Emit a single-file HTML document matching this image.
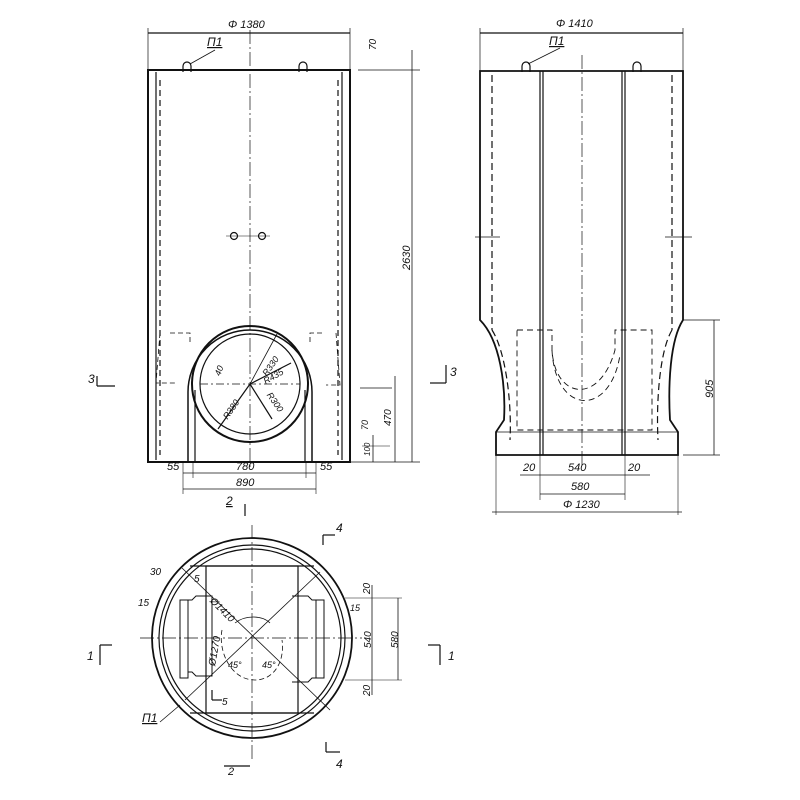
<!DOCTYPE html>
<html><head><meta charset="utf-8"><style>body{margin:0;background:#fff}svg{display:block}text{font-family:"Liberation Sans",sans-serif;font-style:italic;fill:#111}</style></head>
<body>
<svg width="800" height="800" viewBox="0 0 800 800" xmlns="http://www.w3.org/2000/svg" stroke="#111" fill="none" stroke-width="1.2">
<!-- LEFT ELEVATION -->
<rect x="148" y="70" width="202" height="392" stroke-width="2"/>
<line x1="156" y1="72" x2="156" y2="460"/><line x1="342" y1="72" x2="342" y2="460"/>
<line x1="160" y1="80" x2="160" y2="455" stroke-dasharray="6,4"/><line x1="338" y1="80" x2="338" y2="455" stroke-dasharray="6,4"/>
<line x1="250" y1="30" x2="250" y2="470" stroke-dasharray="14,3,2,3" stroke-width="0.7"/>
<line x1="148" y1="33" x2="350" y2="33"/><line x1="148" y1="28" x2="148" y2="70" stroke-width="0.7"/><line x1="350" y1="28" x2="350" y2="70" stroke-width="0.7"/>
<text x="228" y="28" font-size="11" stroke="none">Φ 1380</text>
<text x="207" y="46" font-size="12" stroke="none" text-decoration="underline">П1</text>
<line x1="215" y1="50" x2="190" y2="64" stroke-width="0.8"/>
<path d="M183 72 v-6 a4 4 0 0 1 8 0 v6 M299 72 v-6 a4 4 0 0 1 8 0 v6"/>
<circle cx="234" cy="236" r="3.5"/><circle cx="262" cy="236" r="3.5"/>
<line x1="226" y1="236" x2="270" y2="236" stroke-width="0.6"/>
<!-- circle opening -->
<circle cx="250" cy="384" r="58" stroke-width="2"/><circle cx="250" cy="384" r="50"/>
<path d="M188 462 V392 A62 62 0 0 1 312 392 V462" stroke-width="1.5"/>
<line x1="195" y1="462" x2="195" y2="390"/><line x1="305" y1="462" x2="305" y2="390"/>
<line x1="200" y1="384" x2="300" y2="384" stroke-dasharray="8,3,2,3" stroke-width="0.7"/>
<line x1="250" y1="384" x2="277" y2="334" stroke-width="0.8"/><line x1="250" y1="384" x2="291" y2="363"/><line x1="250" y1="384" x2="272" y2="419"/>
<line x1="250" y1="384" x2="218" y2="429"/>
<text x="252" y="374" font-size="9" stroke="none" transform="rotate(-55 262 361)">R330</text>
<text x="262" y="381" font-size="9" stroke="none" transform="rotate(-30 270 376)">R435</text>
<text x="258" y="401" font-size="9" stroke="none" transform="rotate(55 268 406)">R300</text>
<text x="215" y="416" font-size="9" stroke="none" transform="rotate(-55 225 406)">R380</text>
<text x="215" y="373" font-size="9" stroke="none" transform="rotate(-70 220 371)">40</text>
<path d="M170 333 h20 v10 M160 333 l-4 50 h20 M322 333 h-12 v12 M336 333 l4 52 h-14" stroke-dasharray="5,3" stroke-width="0.8"/>
<!-- right dims left view -->
<line x1="358" y1="70" x2="420" y2="70" stroke-width="0.7"/>
<line x1="412" y1="50" x2="412" y2="462" stroke-width="0.8"/>
<text x="368" y="50" font-size="10" stroke="none" transform="rotate(-90 372 46)">70</text>
<text x="400" y="270" font-size="11" stroke="none" transform="rotate(-90 405 265)">2630</text>
<line x1="350" y1="462" x2="420" y2="462" stroke-width="0.7"/>
<line x1="360" y1="388" x2="392" y2="388" stroke-width="0.7"/>
<line x1="395" y1="376" x2="395" y2="462" stroke-width="0.8"/><line x1="373" y1="435" x2="373" y2="462" stroke-width="0.8"/>
<text x="377" y="428" font-size="10" stroke="none" transform="rotate(-90 383 420)">470</text>
<text x="360" y="428" font-size="9" stroke="none" transform="rotate(-90 365 425)">70</text>
<text x="360" y="458" font-size="8" stroke="none" transform="rotate(-90 364 452)">100</text>
<line x1="362" y1="446" x2="390" y2="446" stroke-width="0.6"/>
<!-- bottom dims -->
<line x1="183" y1="473" x2="316" y2="473" stroke-width="0.8"/><line x1="183" y1="489" x2="316" y2="489" stroke-width="0.8"/>
<line x1="183" y1="462" x2="183" y2="494" stroke-width="0.6"/><line x1="316" y1="462" x2="316" y2="494" stroke-width="0.6"/>
<line x1="193" y1="462" x2="193" y2="478" stroke-width="0.6"/><line x1="306" y1="462" x2="306" y2="478" stroke-width="0.6"/>
<text x="167" y="470" font-size="11" stroke="none">55</text><text x="236" y="470" font-size="11" stroke="none">780</text><text x="320" y="470" font-size="11" stroke="none">55</text>
<text x="236" y="486" font-size="11" stroke="none">890</text>
<text x="226" y="505" font-size="12" stroke="none" text-decoration="underline">2</text><line x1="245" y1="504" x2="245" y2="516"/>
<text x="88" y="383" font-size="12" stroke="none">3</text><line x1="97" y1="386" x2="115" y2="386"/><line x1="97" y1="376" x2="97" y2="386"/>
<text x="450" y="376" font-size="12" stroke="none">3</text><line x1="430" y1="383" x2="446" y2="383"/><line x1="446" y1="365" x2="446" y2="383"/>
<!-- RIGHT ELEVATION -->
<path d="M480 71 H683 V320 C670 340 668 385 670 420 L678 432 V455 H496 V432 L504 420 C506 385 500 340 480 320 Z" stroke-width="1.8"/>
<line x1="540" y1="71" x2="540" y2="455"/><line x1="543" y1="71" x2="543" y2="455"/>
<line x1="622" y1="71" x2="622" y2="455"/><line x1="625" y1="71" x2="625" y2="455"/>
<line x1="582" y1="55" x2="582" y2="465" stroke-dasharray="14,3,2,3" stroke-width="0.7"/>
<line x1="492" y1="75" x2="492" y2="330" stroke-dasharray="7,4"/><line x1="672" y1="75" x2="672" y2="330" stroke-dasharray="7,4"/>
<path d="M492 330 C505 350 512 400 510 440 M672 330 C660 350 656 400 658 440" stroke-dasharray="7,4"/>
<path d="M517 330 H552 V350 C555 400 600 405 615 350 V330 H652 V430 H517 Z" stroke-dasharray="6,4" stroke-width="0.9"/>
<path d="M552 350 C555 415 610 418 620 355" stroke-dasharray="6,4" stroke-width="0.9"/>
<line x1="496" y1="432" x2="678" y2="432" stroke-width="0.8"/>
<line x1="480" y1="33" x2="683" y2="33"/><line x1="480" y1="28" x2="480" y2="71" stroke-width="0.7"/><line x1="683" y1="28" x2="683" y2="71" stroke-width="0.7"/>
<text x="556" y="27" font-size="11" stroke="none">Φ 1410</text>
<text x="549" y="45" font-size="12" stroke="none" text-decoration="underline">П1</text>
<line x1="560" y1="48" x2="528" y2="64" stroke-width="0.8"/>
<path d="M522 72 v-6 a4 4 0 0 1 8 0 v6 M633 72 v-6 a4 4 0 0 1 8 0 v6"/>
<line x1="475" y1="237" x2="500" y2="237" stroke-width="0.7"/><line x1="665" y1="237" x2="692" y2="237" stroke-width="0.7"/>
<line x1="683" y1="320" x2="720" y2="320" stroke-width="0.7"/><line x1="714" y1="320" x2="714" y2="455" stroke-width="0.8"/><line x1="683" y1="455" x2="720" y2="455" stroke-width="0.7"/>
<text x="700" y="395" font-size="11" stroke="none" transform="rotate(-90 708 390)">905</text>
<line x1="496" y1="455" x2="496" y2="515" stroke-width="0.6"/><line x1="678" y1="455" x2="678" y2="515" stroke-width="0.6"/>
<line x1="540" y1="455" x2="540" y2="500" stroke-width="0.6"/><line x1="625" y1="455" x2="625" y2="500" stroke-width="0.6"/>
<line x1="520" y1="475" x2="650" y2="475" stroke-width="0.8"/><line x1="540" y1="494" x2="625" y2="494" stroke-width="0.8"/><line x1="492" y1="512" x2="682" y2="512" stroke-width="0.8"/>
<text x="523" y="471" font-size="11" stroke="none">20</text><text x="568" y="471" font-size="11" stroke="none">540</text><text x="628" y="471" font-size="11" stroke="none">20</text>
<text x="571" y="490" font-size="11" stroke="none">580</text><text x="563" y="508" font-size="11" stroke="none">Φ 1230</text>
<!-- PLAN -->
<circle cx="252" cy="638" r="100" stroke-width="1.8"/><circle cx="252" cy="638" r="93"/><circle cx="252" cy="638" r="89"/>
<rect x="206" y="566" width="92" height="147" stroke-width="1.2"/>
<line x1="190" y1="566" x2="314" y2="566"/><line x1="190" y1="713" x2="314" y2="713"/>
<line x1="182" y1="568" x2="330" y2="710" stroke-width="0.8"/><line x1="320" y1="572" x2="185" y2="700" stroke-width="0.8"/>
<line x1="252" y1="525" x2="252" y2="760" stroke-dasharray="14,3,2,3" stroke-width="0.7"/>
<line x1="140" y1="638" x2="362" y2="638" stroke-dasharray="14,3,2,3" stroke-width="0.7"/>
<path d="M188 600 h4 l4 -4 h16 v80 h-16 l-4 -4 h-4 Z M316 600 h-4 l-4 -4 h-16 M316 678 h-4 l-4 4 h-16" stroke-width="1"/>
<path d="M324 600 h-8 v78 h8 Z M180 600 h8 v78 h-8 Z" stroke-width="1"/>
<path d="M222 630 C218 650 230 680 255 680 C275 680 285 660 282 640" stroke-dasharray="5,3" stroke-width="0.8"/>
<path d="M235 623 C245 615 262 615 270 623" stroke-width="0.8"/>
<text x="210" y="610" font-size="10" stroke="none" transform="rotate(45 220 605)">Ø1410</text>
<text x="203" y="668" font-size="10" stroke="none" transform="rotate(-80 208 660)">Ø1270</text>
<text x="228" y="668" font-size="9" stroke="none">45°</text><text x="262" y="668" font-size="9" stroke="none">45°</text>
<text x="150" y="575" font-size="10" stroke="none">30</text><text x="194" y="582" font-size="10" stroke="none">5</text>
<text x="138" y="606" font-size="10" stroke="none">15</text><text x="350" y="611" font-size="9" stroke="none">15</text>
<text x="222" y="705" font-size="10" stroke="none">5</text><line x1="212" y1="690" x2="212" y2="700"/><line x1="212" y1="700" x2="222" y2="700"/>
<line x1="345" y1="598" x2="402" y2="598" stroke-width="0.6"/><line x1="345" y1="680" x2="402" y2="680" stroke-width="0.6"/>
<line x1="372" y1="585" x2="372" y2="695" stroke-width="0.8"/><line x1="398" y1="598" x2="398" y2="680" stroke-width="0.8"/>
<text x="360" y="592" font-size="10" stroke="none" transform="rotate(-90 366 588)">20</text>
<text x="358" y="645" font-size="10" stroke="none" transform="rotate(-90 366 640)">540</text>
<text x="385" y="645" font-size="10" stroke="none" transform="rotate(-90 393 640)">580</text>
<text x="360" y="694" font-size="10" stroke="none" transform="rotate(-90 366 690)">20</text>
<text x="142" y="722" font-size="12" stroke="none" text-decoration="underline">П1</text><line x1="160" y1="722" x2="180" y2="705" stroke-width="0.8"/>
<text x="87" y="660" font-size="12" stroke="none">1</text><line x1="100" y1="645" x2="100" y2="665"/><line x1="100" y1="645" x2="112" y2="645"/>
<text x="448" y="660" font-size="12" stroke="none">1</text><line x1="440" y1="645" x2="440" y2="665"/><line x1="428" y1="645" x2="440" y2="645"/>
<text x="336" y="532" font-size="12" stroke="none">4</text><line x1="323" y1="535" x2="323" y2="545"/><line x1="323" y1="535" x2="335" y2="535"/>
<text x="336" y="768" font-size="12" stroke="none">4</text><line x1="326" y1="742" x2="326" y2="752"/><line x1="326" y1="752" x2="340" y2="752"/>
<text x="228" y="775" font-size="11" stroke="none">2</text><line x1="224" y1="766" x2="250" y2="766"/>
</svg>
</body></html>
